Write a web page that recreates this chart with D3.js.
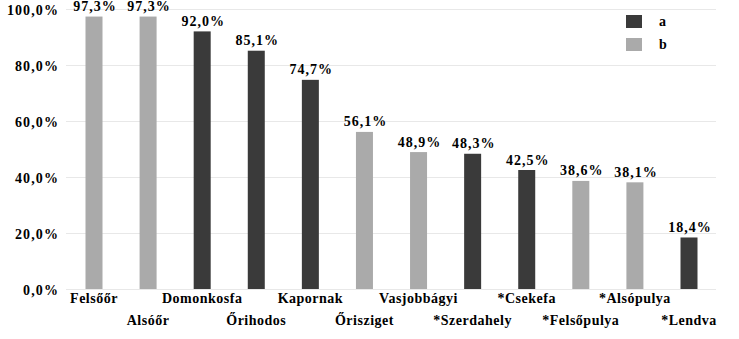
<!DOCTYPE html>
<html><head><meta charset="utf-8">
<script src="https://cdn.jsdelivr.net/npm/d3@7"></script>
<style>
html,body{margin:0;padding:0;background:#fff;}
svg{display:block;}
</style>
</head><body>
<svg id="c" width="739" height="339"></svg>
<script>
const categories = ["Felsőőr","Alsóőr","Domonkosfa","Őrihodos","Kapornak","Őrisziget","Vasjobbágyi","*Szerdahely","*Csekefa","*Felsőpulya","*Alsópulya","*Lendva"];
const values = [97.3,97.3,92.0,85.1,74.7,56.1,48.9,48.3,42.5,38.6,38.1,18.4];
const groups = ["b","b","a","a","a","b","b","a","a","b","b","a"];
const seriesNames = ["a","b"];
const yTicks = [0,20,40,60,80,100];

const colors = {a:"#3a3a3a", b:"#aaaaaa"};
const svg = d3.select("#c");
const y = d3.scaleLinear().domain([0,100]).range([289,9]);
const x = d3.scalePoint().domain(categories).range([94,689]);
const fmt = v => v.toFixed(1).replace(".", ",") + "%";
const txt = (s, ls) => s.style("font-family","Liberation Serif").style("font-weight","bold")
  .style("font-size","14px").style("letter-spacing", ls + "px").attr("fill","#000");

// gridlines
svg.append("g").selectAll("line").data(yTicks).join("line")
  .attr("x1",66).attr("x2",716)
  .attr("y1",d=>y(d)+0.5).attr("y2",d=>y(d)+0.5)
  .attr("stroke","#e8e8e8").attr("stroke-width",1);

// y axis
const yAxis = d3.axisLeft(y).tickValues(yTicks).tickSize(0).tickPadding(0).tickFormat(fmt);
const ga = svg.append("g").attr("transform","translate(59,1)").call(yAxis);
ga.select(".domain").remove();
ga.selectAll("text").call(txt, 1.1);

// bars
const bw = 17;
svg.append("g").selectAll("rect").data(categories).join("rect")
  .attr("x",(d)=>x(d)-bw/2).attr("width",bw)
  .attr("y",(d,i)=>y(values[i])).attr("height",(d,i)=>y(0)-y(values[i]))
  .attr("fill",(d,i)=>colors[groups[i]]);

// value labels
svg.append("g").selectAll("text").data(categories).join("text")
  .attr("x",d=>x(d)+1).attr("y",(d,i)=>y(values[i])-5.5)
  .attr("text-anchor","middle").call(txt, 1)
  .text((d,i)=>fmt(values[i]));

// category labels, alternating rows
svg.append("g").selectAll("text").data(categories).join("text")
  .attr("x",d=>x(d)).attr("y",(d,i)=> i%2===0 ? 303 : 325)
  .attr("text-anchor","middle").call(txt, 0.5)
  .text(d=>d);

// legend
const lg = svg.append("g").selectAll("g").data(seriesNames).join("g")
  .attr("transform",(d,i)=>`translate(626,${15+i*23})`);
lg.append("rect").attr("width",16).attr("height",13).attr("fill",d=>colors[d]);
lg.append("text").attr("x",33).attr("y",10.5).call(txt, 0).text(d=>d);
</script>
</body></html>
